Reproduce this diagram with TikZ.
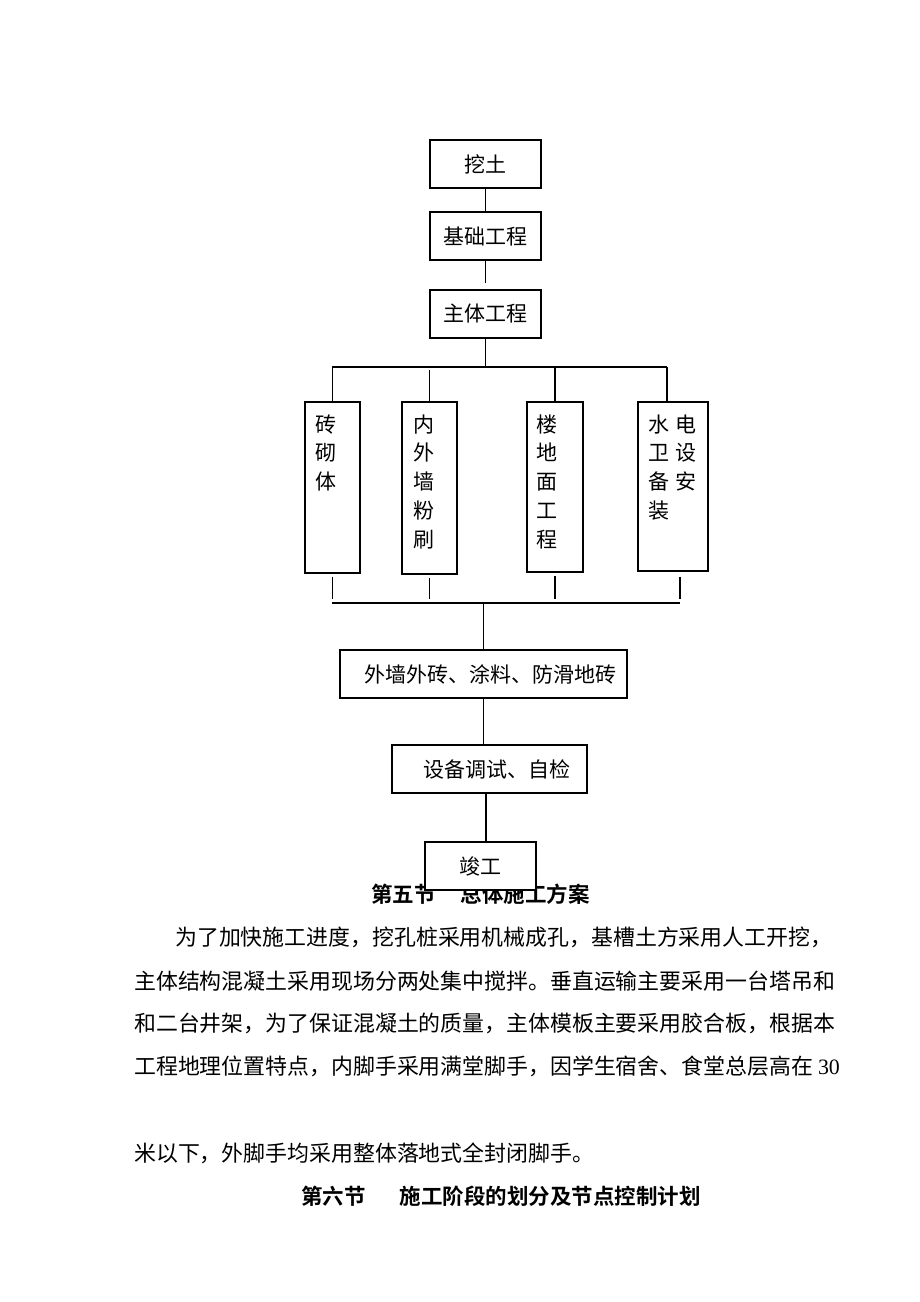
\documentclass[tikz,border=0pt]{standalone}
\usepackage{fontspec}
\setmainfont{Liberation Serif}
\newfontfamily\cjk[BoldFont={Noto Sans CJK SC Bold}]{Noto Sans CJK SC}
\usetikzlibrary{positioning}

\begin{document}
\begin{tikzpicture}[x=1pt,y=-1pt,
  box/.style={draw,fill=white,line width=1.1pt,inner sep=0pt,font=\cjk\fontsize{21}{25}\selectfont},
  vbox/.style={draw,line width=1.1pt,inner sep=0pt},
  vtext/.style={inner sep=0pt,align=left,font=\cjk\fontsize{21}{28.7}\selectfont},
  para/.style={inner sep=0pt,anchor=west,font=\cjk\fontsize{21.9}{26}\selectfont},
  head/.style={inner sep=0pt,anchor=west,font=\cjk\bfseries\fontsize{21.5}{26}\selectfont},
  line/.style={line width=1.1pt},
  stub/.style={line width=1.1pt,shorten <=3pt,shorten >=4pt}]
\useasboundingbox (0,0) rectangle (920,1302);

% top chain
\node[box,minimum width=111pt,minimum height=48pt] (wt) at (485.5,164) {挖土};
\node[box,minimum width=111pt,minimum height=48pt] (jc) at (485.5,236) {基础工程};
\node[box,minimum width=111pt,minimum height=48pt] (zt) at (485.5,314) {主体工程};
\draw[line] (wt) -- (jc);
\draw[line,shorten >=6pt] (jc) -- (zt);

\coordinate (b1w) at (332,367);
\coordinate (b1e) at (667,367);
\draw[line] (zt.south) -- (zt.south |- b1w);
\draw[line] (b1w) -- (b1e);

% four branches
\node[vbox,minimum width=55pt,minimum height=171pt] (zqt) at (332.5,487.5) {};
\node[vbox,minimum width=55pt,minimum height=172pt] (nwq) at (429.5,488) {};
\node[vbox,minimum width=56pt,minimum height=170pt] (ldm) at (555,487) {};
\node[vbox,minimum width=70pt,minimum height=169pt] (sd) at (673,486.5) {};
\node[vtext,below right=13pt and 11pt of zqt.north west] (zqt-t) {砖\\砌\\体};
\node[vtext,below right=13pt and 12pt of nwq.north west] (nwq-t) {内\\外\\墙\\粉\\刷};
\node[vtext,below right=13pt and 10pt of ldm.north west] (ldm-t) {楼\\地\\面\\工\\程};
\node[vtext,below right=13pt and 11pt of sd.north west] (sd-t) {水\hspace{6pt}电\\卫\hspace{6pt}设\\备\hspace{6pt}安\\装};
\draw[line] (zqt.north |- b1w) -- (zqt.north);
\draw[line,shorten <=3pt] (nwq.north |- b1w) -- (nwq.north);
\draw[line] (ldm.north |- b1w) -- (ldm.north);
\draw[line] (b1e) -- (b1e |- sd.north);

\coordinate (b2w) at (332,603);
\coordinate (b2e) at (680,603);
\draw[stub] (zqt.south) -- (zqt.south |- b2w);
\draw[stub] (nwq.south) -- (nwq.south |- b2w);
\draw[stub] (ldm.south) -- (ldm.south |- b2w);
\draw[stub,shorten <=5pt] (b2e |- sd.south) -- (b2e);
\draw[line] (b2w) -- (b2e);

% lower chain
\node[box,minimum width=287pt,minimum height=48pt] (wz) at (483.5,674) {\hspace*{14pt}外墙外砖、涂料、防滑地砖};
\node[box,minimum width=195pt,minimum height=48pt] (sb) at (489.5,769) {\hspace*{14pt}设备调试、自检};
\draw[line] (wz.north |- b2w) -- (wz.north);
\draw[line] (wz.south) -- (wz.south |- sb.north);

% text
\node[head] (h5) at (371,894) {第五节\hspace{25pt}总体施工方案};
\node[para] (p1) at (175,937) {为了加快施工进度，挖孔桩采用机械成孔，基槽土方采用人工开挖，};
\node[para] (p2) at (134,981) {主体结构混凝土采用现场分两处集中搅拌。垂直运输主要采用一台塔吊和};
\node[para] (p3) at (134,1023) {和二台井架，为了保证混凝土的质量，主体模板主要采用胶合板，根据本};
\node[para] (p4) at (134,1066) {工程地理位置特点，内脚手采用满堂脚手，因学生宿舍、食堂总层高在 {\rmfamily 30}};
\node[para] (p5) at (134,1153) {米以下，外脚手均采用整体落地式全封闭脚手。};
\node[head] (h6) at (301,1196) {第六节\hspace{34pt}施工阶段的划分及节点控制计划};

\node[box,minimum width=111pt,minimum height=48pt] (jg) at (480.5,866) {竣工};
\draw[line] ([xshift=-3.5pt]sb.south) -- ([xshift=-3.5pt]sb.south |- jg.north);
\end{tikzpicture}
\end{document}
